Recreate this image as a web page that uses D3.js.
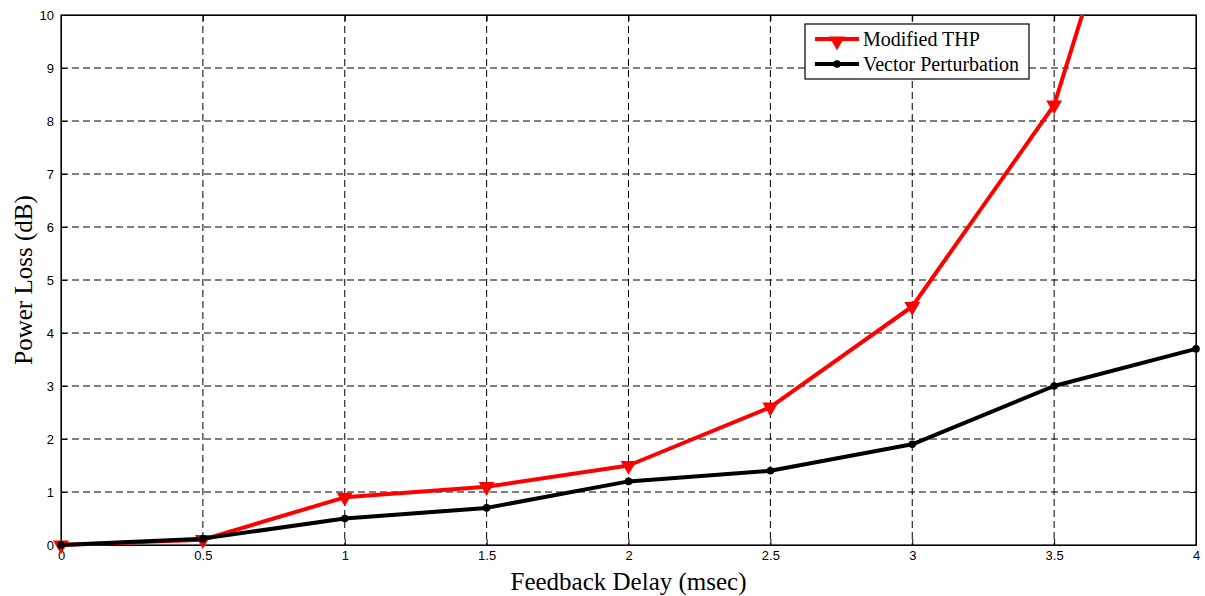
<!DOCTYPE html>
<html>
<head>
<meta charset="utf-8">
<script src="https://cdn.jsdelivr.net/npm/d3@7"></script>
<style>
  body { margin: 0; background: #fff; }
  .tick text { font-family: "Liberation Sans", Arial, sans-serif; font-size: 13px; fill: #000; }
</style>
</head>
<body>
<div id="chart"></div>
<script>
// data
var delays = [0, 0.5, 1, 1.5, 2, 2.5, 3, 3.5, 4];
var thpLoss = [0, 0.1, 0.9, 1.1, 1.5, 2.6, 4.5, 8.3, 16.9];
var vpLoss = [0, 0.12, 0.5, 0.7, 1.2, 1.4, 1.9, 3.0, 3.7];
var xTicks = [0, 0.5, 1, 1.5, 2, 2.5, 3, 3.5, 4];
var yTicks = [0, 1, 2, 3, 4, 5, 6, 7, 8, 9, 10];
var seriesNames = ["Modified THP", "Vector Perturbation"];

var svgWidth = 1205;
var svgHeight = 596;
var margin = { top: 15, right: 9, bottom: 51, left: 61 };
var width = svgWidth - margin.left - margin.right;
var height = svgHeight - margin.top - margin.bottom;

var svg = d3.select("#chart")
  .append("svg")
  .attr("width", svgWidth)
  .attr("height", svgHeight);

var chartGroup = svg.append("g")
  .attr("transform", `translate(${margin.left}, ${margin.top})`);

var x = d3.scaleLinear().domain([0, 4]).range([0, width]);
var y = d3.scaleLinear().domain([0, 10]).range([height, 0]);

// grid
chartGroup.append("g")
  .selectAll("line")
  .data(xTicks.slice(1, -1))
  .enter()
  .append("line")
  .attr("x1", d => x(d)).attr("x2", d => x(d))
  .attr("y1", 0).attr("y2", height)
  .attr("stroke", "#000")
  .attr("stroke-width", 1)
  .attr("stroke-dasharray", "7,4");

chartGroup.append("g")
  .selectAll("line")
  .data(yTicks.slice(1, -1))
  .enter()
  .append("line")
  .attr("x1", 0).attr("x2", width)
  .attr("y1", d => y(d)).attr("y2", d => y(d))
  .attr("stroke", "#000")
  .attr("stroke-width", 1)
  .attr("stroke-dasharray", "7,4");

// axes (ticks point inward like matlab)
var bottomAxis = d3.axisBottom(x).tickValues(xTicks).tickSizeInner(-6).tickSizeOuter(0).tickPadding(6).tickFormat(d3.format("~g"));
var leftAxis = d3.axisLeft(y).tickValues(yTicks).tickSizeInner(-6).tickSizeOuter(0).tickPadding(7).tickFormat(d3.format("~g"));

var xAxis = chartGroup.append("g")
  .attr("transform", `translate(0, ${height})`)
  .call(bottomAxis);
var yAxis = chartGroup.append("g").call(leftAxis);

chartGroup.append("g")
  .call(d3.axisTop(x).tickValues(xTicks).tickSizeInner(-6).tickSizeOuter(0).tickFormat(""));
chartGroup.append("g")
  .attr("transform", `translate(${width}, 0)`)
  .call(d3.axisRight(y).tickValues(yTicks).tickSizeInner(-6).tickSizeOuter(0).tickFormat(""));

chartGroup.selectAll(".domain").attr("stroke", "#000").attr("stroke-width", 1);
chartGroup.selectAll(".tick line").attr("stroke", "#000");

chartGroup.append("rect")
  .attr("width", width).attr("height", height)
  .attr("fill", "none").attr("stroke", "#000").attr("stroke-width", 1.2);

// clip for the lines
svg.append("defs").append("clipPath").attr("id", "plotClip")
  .append("rect").attr("x", -10).attr("y", 0).attr("width", width + 20).attr("height", height + 10);

var plot = chartGroup.append("g").attr("clip-path", "url(#plotClip)");

var line = d3.line().x(d => x(d[0])).y(d => y(d[1]));
var thpData = delays.map((d, i) => [d, thpLoss[i]]);
var vpData = delays.map((d, i) => [d, vpLoss[i]]);

plot.append("path")
  .datum(thpData)
  .attr("d", line)
  .attr("fill", "none")
  .attr("stroke", "#ff0000")
  .attr("stroke-width", 4)
  .attr("stroke-linejoin", "round");

var tri = d3.symbol().type(d3.symbolTriangle).size(110);
plot.selectAll(".thpMark")
  .data(thpData)
  .enter()
  .append("path")
  .attr("class", "thpMark")
  .attr("d", tri)
  .attr("transform", d => `translate(${x(d[0])}, ${y(d[1])}) rotate(180)`)
  .attr("fill", "#ff0000");

plot.append("path")
  .datum(vpData)
  .attr("d", line)
  .attr("fill", "none")
  .attr("stroke", "#000")
  .attr("stroke-width", 4)
  .attr("stroke-linejoin", "round");

plot.selectAll(".vpMark")
  .data(vpData)
  .enter()
  .append("circle")
  .attr("class", "vpMark")
  .attr("cx", d => x(d[0]))
  .attr("cy", d => y(d[1]))
  .attr("r", 3.8)
  .attr("fill", "#000");

// axis labels
svg.append("text")
  .attr("x", margin.left + width / 2)
  .attr("y", 590)
  .attr("text-anchor", "middle")
  .style("font-family", "'Liberation Serif', 'Times New Roman', serif")
  .style("font-size", "25px")
  .text("Feedback Delay (msec)");

svg.append("text")
  .attr("transform", `translate(32, ${margin.top + height / 2}) rotate(-90)`)
  .attr("text-anchor", "middle")
  .style("font-family", "'Liberation Serif', 'Times New Roman', serif")
  .style("font-size", "25px")
  .text("Power Loss (dB)");

// legend
var legend = svg.append("g").attr("transform", "translate(805, 24)");
legend.append("rect")
  .attr("width", 224).attr("height", 55)
  .attr("fill", "#fff").attr("stroke", "#000").attr("stroke-width", 1.2);

var legendColors = ["#ff0000", "#000"];
seriesNames.forEach(function(name, i) {
  var row = legend.append("g").attr("transform", `translate(0, ${15 + i * 25})`);
  row.append("line")
    .attr("x1", 10).attr("x2", 54).attr("y1", 0).attr("y2", 0)
    .attr("stroke", legendColors[i]).attr("stroke-width", 4);
  if (i === 0) {
    row.append("path").attr("d", tri).attr("transform", "translate(32, 2) rotate(180)").attr("fill", "#ff0000");
  } else {
    row.append("circle").attr("cx", 32).attr("cy", 0).attr("r", 3.8).attr("fill", "#000");
  }
  row.append("text")
    .attr("x", 58).attr("y", 7)
    .style("font-family", "'Liberation Serif', 'Times New Roman', serif")
    .style("font-size", "20px")
    .text(name);
});
</script>
</body>
</html>
